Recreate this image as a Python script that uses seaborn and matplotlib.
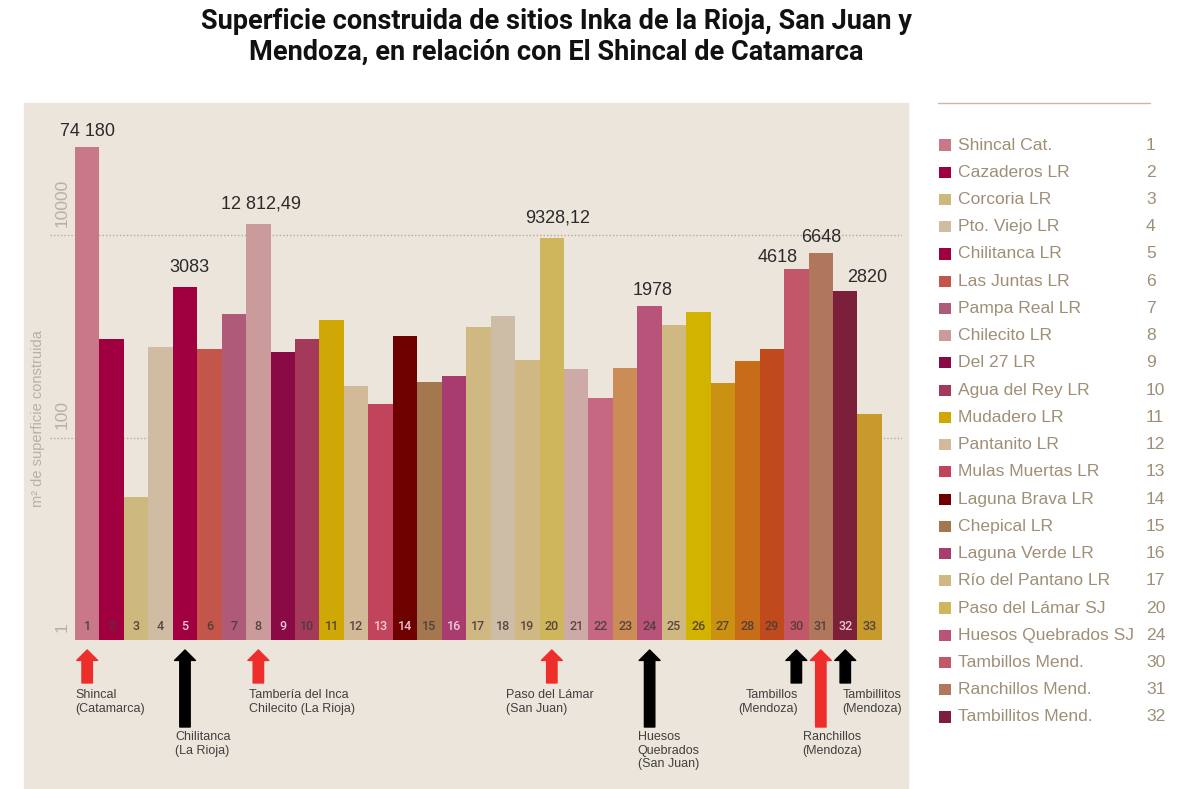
import matplotlib
matplotlib.use("Agg")
import matplotlib.pyplot as plt
import seaborn as sns
import pandas as pd
from matplotlib.patches import Rectangle
from matplotlib.lines import Line2D
from matplotlib.ticker import NullLocator
from matplotlib.transforms import ScaledTranslation

# --- datos ---
sitios = list(range(1, 34))
superficie = [74180, 950, 26, 780, 3083, 745, 1650, 12812.49, 695, 935,
              1440, 327, 217, 1000, 358, 411, 1230, 1580, 590, 9328.12,
              482, 249, 493, 1978, 1285, 1730, 343, 578, 745, 4618,
              6648, 2820, 173]
colores = ["#C87888", "#A0003F", "#CDB87E", "#CFBCA3", "#A0003F", "#C4554B",
           "#B05A7A", "#CB9B9C", "#8A0A45", "#A4395A", "#CFA806", "#D2B998",
           "#C2435C", "#6E0000", "#A4774E", "#A83C6E", "#CFB882", "#CDBCA6",
           "#CFB882", "#CFB55C", "#CEAAA6", "#C66882", "#CB8C55", "#B85479",
           "#CFB882", "#D1B300", "#CB9112", "#C76D19", "#C14A1D", "#C25769",
           "#B0775D", "#7B1F3B", "#C79A2B"]
numeros_claros = [5, 9, 13, 14, 16, 32]

etiq_sitios = [1, 5, 8, 20, 24, 30, 31, 32]
etiq_textos = ["74 180", "3083", "12 812,49", "9328,12", "1978", "4618", "6648", "2820"]
etiq_ha = ["center", "center", "center", "center", "center", "right", "center", "left"]
etiq_dx = [0, 3, 2, 4, 2, 1, 0, 1]
etiq_dy = [8, 11, 11.5, 11.5, 8, 5, 8, 6.5]

flecha_sitios = [1, 5, 8, 20, 24, 30, 31, 32]
flecha_colores = ["#EE2E2A", "#000000", "#EE2E2A", "#EE2E2A", "#000000", "#000000", "#EE2E2A", "#000000"]
flecha_larga = [False, True, False, False, True, False, True, False]
flecha_textos = ["Shincal\n(Catamarca)", "Chilitanca\n(La Rioja)",
                 "Tambería del Inca\nChilecito (La Rioja)", "Paso del Lámar\n(San Juan)",
                 "Huesos\nQuebrados\n(San Juan)", "Tambillos\n(Mendoza)",
                 "Ranchillos\n(Mendoza)", "Tambillitos\n(Mendoza)"]
flecha_ha = ["left", "left", "left", "left", "left", "right", "left", "left"]
flecha_dx = [-0.47, -0.41, -0.37, -1.88, -0.49, 0.08, -0.74, -0.12]

leyenda_nombres = ["Shincal Cat.", "Cazaderos LR", "Corcoria LR", "Pto. Viejo LR",
                   "Chilitanca LR", "Las Juntas LR", "Pampa Real LR", "Chilecito LR",
                   "Del 27 LR", "Agua del Rey LR", "Mudadero LR", "Pantanito LR",
                   "Mulas Muertas LR", "Laguna Brava LR", "Chepical LR", "Laguna Verde LR",
                   "Río del Pantano LR", "Paso del Lámar SJ", "Huesos Quebrados SJ",
                   "Tambillos Mend.", "Ranchillos Mend.", "Tambillitos Mend."]
leyenda_numeros = [1, 2, 3, 4, 5, 6, 7, 8, 9, 10, 11, 12, 13, 14, 15, 16, 17,
                   20, 24, 30, 31, 32]

W, H = 1197, 789
BEIGE = "#ECE5DB"
GRIS = "#b8b0a6"
TAN = "#9f8f77"

sns.set_style("white")
plt.rcParams["font.family"] = ["Liberation Sans", "DejaVu Sans"]

fig = plt.figure(figsize=(W / 100, H / 100), dpi=100)
fig.patches.append(Rectangle((24 / W, 1 / H), (908 - 24) / W, (788 - 103) / H,
                             transform=fig.transFigure, color=BEIGE, zorder=-5))

ax = fig.add_axes([50 / W, (H - 640) / H, 852 / W, 537 / H])
ax.set_facecolor("none")

df = pd.DataFrame({"sitio": [str(s) for s in sitios], "superficie": superficie})
paleta = dict(zip(df["sitio"], colores))
sns.barplot(data=df, x="sitio", y="superficie", hue="sitio", palette=paleta,
            order=list(df["sitio"]), width=1.0, saturation=1, linewidth=0,
            legend=False, ax=ax)

ax.set_yscale("log")
ax.set_ylim(1, 2.03e5)
ax.set_xlim(-1.52, 33.32)
ax.yaxis.set_minor_locator(NullLocator())
ax.set_yticks([1, 100, 10000])
ax.set_yticklabels(["1", "100", "10000"], rotation=90, va="bottom", ha="center",
                   color=GRIS, fontsize=12.5)
ax.tick_params(axis="y", length=0, pad=-8.6)
ax.tick_params(axis="x", length=0, labelbottom=False)
for lab in ax.get_yticklabels():
    lab.set_transform(lab.get_transform() + ScaledTranslation(0, 6 / 72, fig.dpi_scale_trans))

ax.grid(axis="y", linestyle=(0, (1, 1.5)), color="#b3aa9e", linewidth=1)
ax.grid(axis="x", visible=False)
ax.set_axisbelow(True)
ax.get_ygridlines()[0].set_visible(False)
for s in ax.spines.values():
    s.set_visible(False)

ax.set_xlabel("")
ax.set_ylabel("m² de superficie construida", color=GRIS, fontsize=10.5)
ax.yaxis.set_label_coords(-0.006, 0.413)

# numeros dentro de las barras
xt = ax.get_xaxis_transform()
for i, s in enumerate(sitios):
    c = "#f3dde4" if s in numeros_claros else "#4a3a3a"
    ax.text(i, 0.026, str(s), transform=xt, ha="center", va="center",
            fontsize=9, fontweight="medium", color=c, alpha=0.9,
            family=["Roboto", "DejaVu Sans"])

# etiquetas de valores
for s, t, ha, dx, dy in zip(etiq_sitios, etiq_textos, etiq_ha, etiq_dx, etiq_dy):
    ax.annotate(t, xy=(s - 1, superficie[s - 1]), xytext=(dx, dy),
                textcoords="offset points", ha=ha, va="baseline",
                fontsize=13, color="#2b2b2b")

# flechas y textos
for s, c, larga, t, ha, dx in zip(flecha_sitios, flecha_colores, flecha_larga,
                                  flecha_textos, flecha_ha, flecha_dx):
    y_cola = -0.162 if larga else -0.080
    ax.annotate("", xy=(s - 1, -0.0186), xycoords=xt, xytext=(s - 1, y_cola),
                textcoords=xt, annotation_clip=False,
                arrowprops=dict(arrowstyle="simple,head_length=0.5,head_width=1.0,tail_width=0.5",
                                mutation_scale=15, color=c, shrinkA=0, shrinkB=0))
    y_txt = -0.169 if larga else -0.092
    ax.text(s - 1 + dx, y_txt, t, transform=xt, ha=ha, va="top", fontsize=9,
            color="#404040", linespacing=1.2, multialignment=ha)

# leyenda
fig.add_artist(Line2D([938 / W, 1150 / W], [(H - 103) / H] * 2, color="#c9b9a0",
                      linewidth=1, transform=fig.transFigure))
ax_leg = fig.add_axes([938 / W, (H - 730.6) / H, 232 / W, (730.6 - 131.4) / H])
ax_leg.set_xlim(938, 1170)
ax_leg.set_ylim(len(leyenda_nombres) - 0.5, -0.5)
ax_leg.axis("off")
leg_colores = [colores[n - 1] for n in leyenda_numeros]
ax_leg.scatter([945] * len(leyenda_numeros), range(len(leyenda_numeros)),
               marker="s", s=64, c=leg_colores, linewidths=0)
for k, (nombre, num) in enumerate(zip(leyenda_nombres, leyenda_numeros)):
    ax_leg.text(958, k, nombre, ha="left", va="center", fontsize=12.6, color=TAN)
    ax_leg.text(1146, k, str(num), ha="left", va="center", fontsize=12.6, color=TAN)

fig.text(556 / W, (H - 37) / H,
         "Superficie construida de sitios Inka de la Rioja, San Juan y\n"
         "Mendoza, en relación con El Shincal de Catamarca",
         ha="center", va="center", fontsize=19.5, fontweight="bold",
         color="#111111", linespacing=1.2, family=["Roboto", "DejaVu Sans"])

fig.savefig("out.png", dpi=100, facecolor="white")
